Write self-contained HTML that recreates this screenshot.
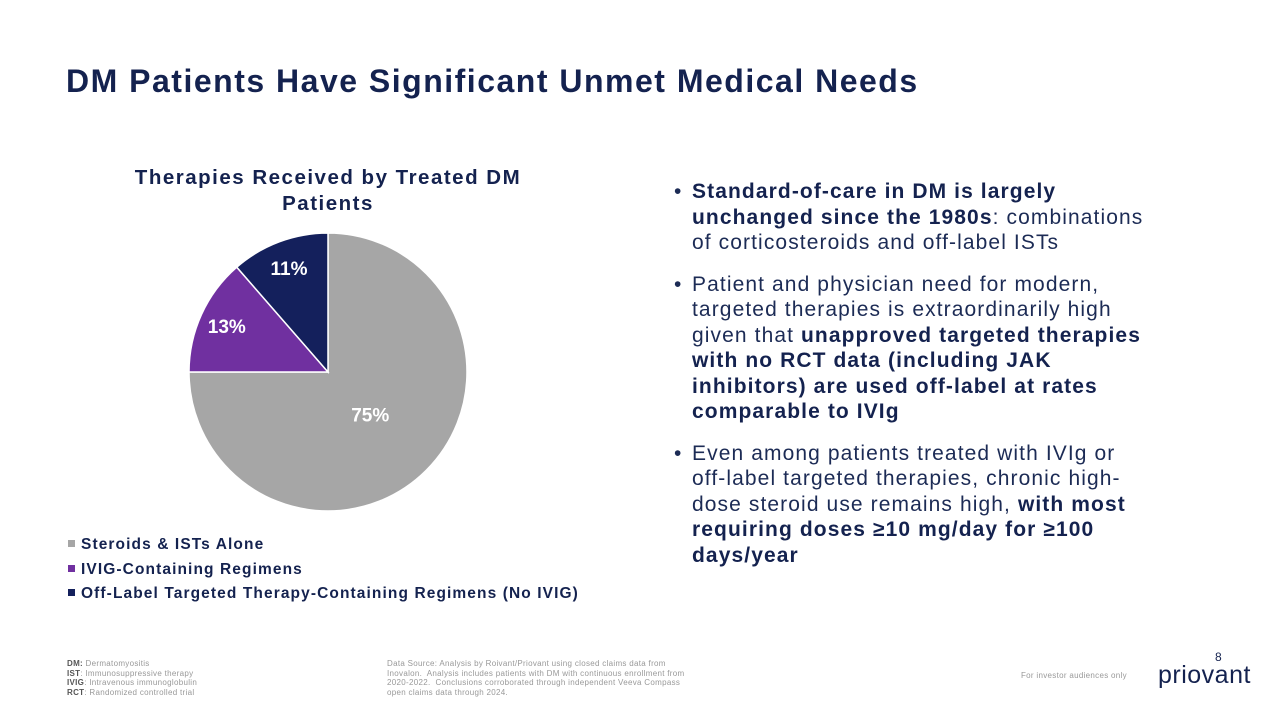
<!DOCTYPE html>
<html><head><meta charset="utf-8"><style>
body{margin:0;width:1267px;height:703px;background:#fff;font-family:"Liberation Sans",sans-serif;position:relative;overflow:hidden;color:#14224f}
.abs{position:absolute}
h1{position:absolute;left:66px;top:63px;margin:0;font-size:32px;font-weight:bold;color:#14224f;letter-spacing:1.5px}
.ct{left:100px;top:165px;width:456px;text-align:center;font-size:20.5px;font-weight:bold;line-height:26px;letter-spacing:1.5px}
.bul{left:672px;top:179px;width:560px;font-size:21px;line-height:25.5px;color:#1c2b55;letter-spacing:1.1px}
.bul p{margin:0 0 16px 20px;position:relative}
.bul p:before{content:"•";position:absolute;left:-18px}
.bul b{color:#14224f}
.leg{left:68px;font-size:15.5px;font-weight:bold;color:#14224f;letter-spacing:1.1px}
.leg span{display:inline-block;width:7px;height:7px;margin-right:6px;vertical-align:2px}
.fn{font-size:8px;color:#999;line-height:9.5px;letter-spacing:0.3px}
.fn b{color:#555}
</style></head><body>
<h1>DM Patients Have Significant Unmet Medical Needs</h1>
<div class="abs ct">Therapies Received by Treated DM<br>Patients</div>
<svg class="abs" style="left:0;top:0" width="700" height="640" id="pie"></svg>
<div class="abs leg" style="top:536px"><span style="background:#a6a6a6"></span>Steroids &amp; ISTs Alone</div>
<div class="abs leg" style="top:561px"><span style="background:#7030a0"></span>IVIG-Containing Regimens</div>
<div class="abs leg" style="top:585px"><span style="background:#14205c"></span>Off-Label Targeted Therapy-Containing Regimens (No IVIG)</div>
<div class="abs bul">
<p><b>Standard-of-care in DM is largely<br>unchanged since the 1980s</b>: combinations<br>of corticosteroids and off-label ISTs</p>
<p>Patient and physician need for modern,<br>targeted therapies is extraordinarily high<br>given that <b>unapproved targeted therapies<br>with no RCT data (including JAK<br>inhibitors) are used off-label at rates<br>comparable to IVIg</b></p>
<p>Even among patients treated with IVIg or<br>off-label targeted therapies, chronic high-<br>dose steroid use remains high, <b>with most<br>requiring doses ≥10 mg/day for ≥100<br>days/year</b></p>
</div>
<div class="abs fn" style="left:67px;top:659px"><b>DM:</b> Dermatomyositis<br><b>IST</b>: Immunosuppressive therapy<br><b>IVIG</b>: Intravenous immunoglobulin<br><b>RCT</b>: Randomized controlled trial</div>
<div class="abs fn" style="left:387px;top:659px;width:360px">Data Source: Analysis by Roivant/Priovant using closed claims data from<br>Inovalon.&nbsp; Analysis includes patients with DM with continuous enrollment from<br>2020-2022.&nbsp; Conclusions corroborated through independent Veeva Compass<br>open claims data through 2024.</div>
<div class="abs fn" style="left:1021px;top:671px">For investor audiences only</div>
<div class="abs" style="left:1215px;top:650px;font-size:12px;color:#14224f">8</div>
<div class="abs" style="left:1158px;top:661px;font-size:25px;color:#14224f;letter-spacing:0.5px">priovant</div>
<script>
const categories=["Steroids & ISTs Alone","IVIG-Containing Regimens","Off-Label Targeted Therapy"];
const values=[75,13.6,11.4];
const labels=["75%","13%","11%"];
const colors=["#a6a6a6","#7030a0","#14205c"];
const svg=document.getElementById('pie');
const NS="http://www.w3.org/2000/svg";
const cx=328,cy=372,R=139;
const total=values.reduce((a,b)=>a+b,0);
function pt(a,r){return [cx+r*Math.sin(a),cy-r*Math.cos(a)];}
let a0=0;
values.forEach((v,i)=>{
  const a1=a0+v/total*2*Math.PI;
  const p0=pt(a0,R),p1=pt(a1,R);
  const path=document.createElementNS(NS,'path');
  path.setAttribute('d',`M${cx},${cy}L${p0[0]},${p0[1]}A${R},${R} 0 ${a1-a0>Math.PI?1:0} 1 ${p1[0]},${p1[1]}Z`);
  path.setAttribute('fill',colors[i]);path.setAttribute('stroke','#fff');path.setAttribute('stroke-width','1.5');
  
  
  svg.appendChild(path);
  const m=(a0+a1)/2,f=v/total>0.5?0.43:0.8;
  const lp=pt(m,R*f);
  const t=document.createElementNS(NS,'text');
  t.setAttribute('x',lp[0]);t.setAttribute('y',lp[1]+7);
  t.setAttribute('text-anchor','middle');t.setAttribute('fill','#fff');
  t.setAttribute('font-size','19');t.setAttribute('font-weight','bold');
  t.setAttribute('font-family','Liberation Sans, sans-serif');
  t.textContent=labels[i];
  
  
  svg.appendChild(t);
  a0=a1;
});
</script>
</body></html>
